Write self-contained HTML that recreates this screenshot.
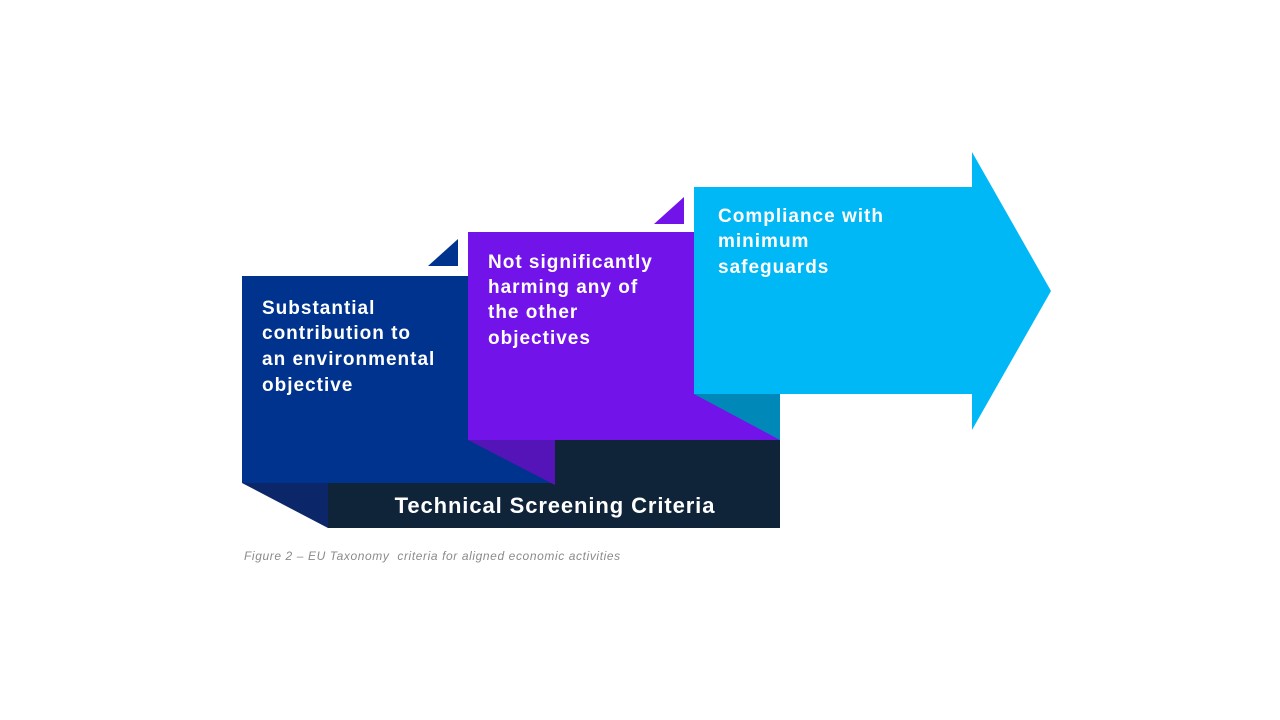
<!DOCTYPE html>
<html><head><meta charset="utf-8"><style>
body{margin:0;width:1280px;height:720px;background:#fff;overflow:hidden;font-family:"Liberation Sans",Arial,sans-serif}
</style></head><body>
<svg width="1280" height="720" viewBox="0 0 1280 720" xmlns="http://www.w3.org/2000/svg" style="position:absolute;left:0;top:0">
<g font-family="Liberation Sans, Arial, sans-serif">
<polygon points="328,483 555,483 555,440 780,440 780,528 328,528" fill="#0f2339"/>
<rect x="242" y="276" width="226" height="207" fill="#00338d"/>
<rect x="468" y="440" width="87" height="43" fill="#00338d"/>
<polygon points="242,483 328,483 328,528" fill="#0b2669"/>
<polygon points="428,266 458,239 458,266" fill="#00338d"/>
<rect x="468" y="232" width="312" height="208" fill="#7213ea"/>
<polygon points="468,440 555,440 555,485" fill="#5514b8"/>
<polygon points="654,224 684,197 684,224" fill="#7213ea"/>
<polygon points="694,187 972,187 972,152 1051,291 972,430 972,394 694,394" fill="#00b8f5"/>
<polygon points="694,394 780,394 780,440" fill="#0089b8"/>
<g fill="#fff" font-weight="bold" font-size="19" letter-spacing="1">
<text x="262" y="314">Substantial</text>
<text x="262" y="339">contribution to</text>
<text x="262" y="365">an environmental</text>
<text x="262" y="391">objective</text>
<text x="488" y="268">Not significantly</text>
<text x="488" y="293">harming any of</text>
<text x="488" y="318">the other</text>
<text x="488" y="344">objectives</text>
<text x="718" y="222">Compliance with</text>
<text x="718" y="247">minimum</text>
<text x="718" y="273">safeguards</text>
<text x="555" y="513" font-size="22" letter-spacing="0.9" text-anchor="middle">Technical Screening Criteria</text>
</g>
<text x="244" y="560" font-size="12" font-style="italic" fill="#8a8a8a" letter-spacing="0.6" xml:space="preserve">Figure 2 – EU Taxonomy  criteria for aligned economic activities</text>
</g>
</svg>
</body></html>
